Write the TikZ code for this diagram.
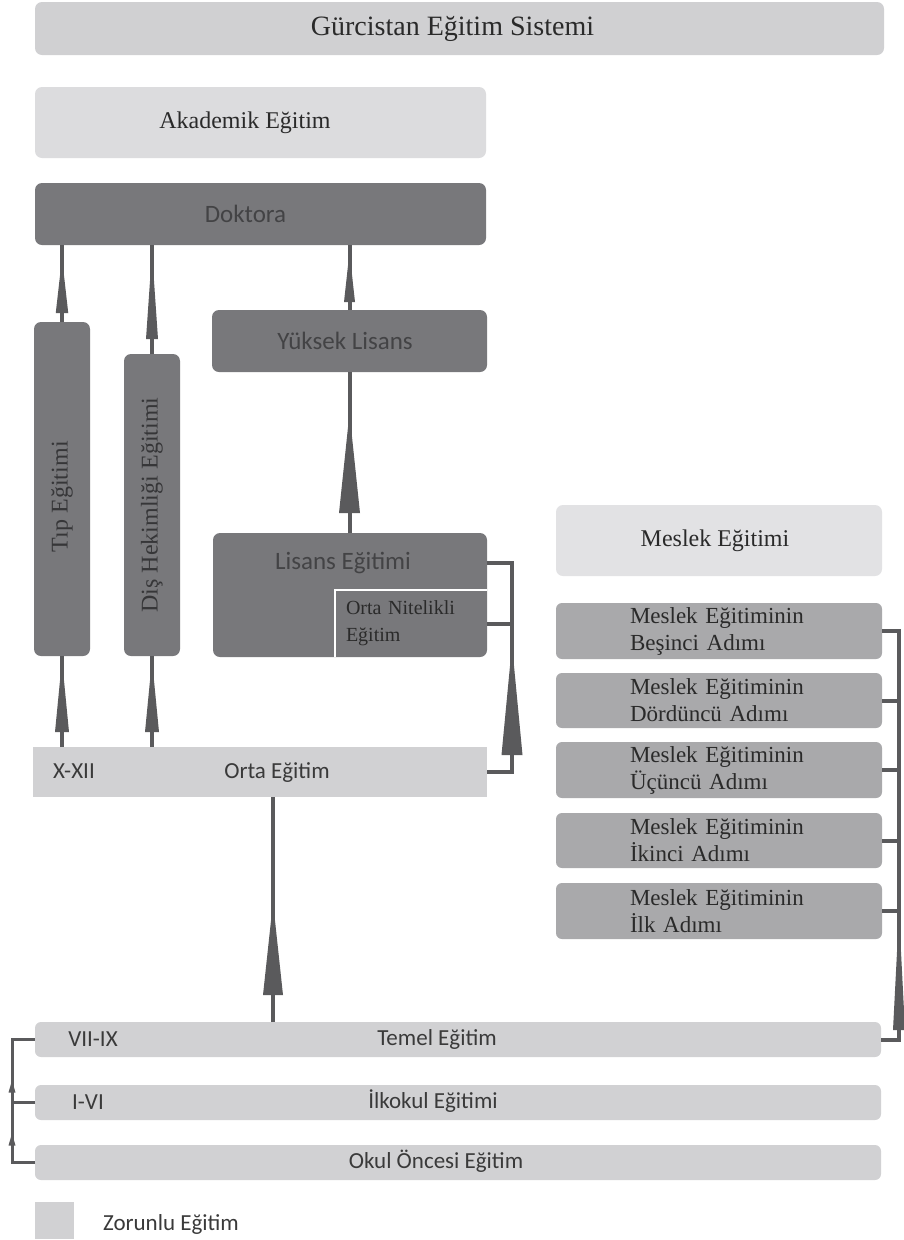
\documentclass[tikz,border=0pt]{standalone}
\usepackage{graphicx}
\usepackage{fontspec}
\setmainfont{Liberation Serif}
\newfontfamily\carl{Carlito}
\usetikzlibrary{decorations.markings}
\definecolor{lightrow}{HTML}{D1D1D3}
\definecolor{titlec}{HTML}{D0D0D2}
\definecolor{akad}{HTML}{DCDCDE}
\definecolor{darkbox}{HTML}{78787B}
\definecolor{mesh}{HTML}{E2E2E4}
\definecolor{mess}{HTML}{A9A9AB}
\definecolor{conncol}{HTML}{5A5A5C}
\definecolor{dtext}{HTML}{434345}
\definecolor{dstext}{HTML}{363638}
\definecolor{stext}{HTML}{2A2A2A}
\definecolor{rowtext}{HTML}{3A3A3A}
\begin{document}
\begin{tikzpicture}[x=1pt,y=-1pt,
  box/.style={inner sep=0pt, outer sep=0pt, rounded corners=7pt},
  lrow/.style={box, fill=lightrow},
  dbox/.style={box, fill=darkbox},
  mstep/.style={box, fill=mess, rounded corners=6pt, minimum width=326pt, text width=178pt, align=left, text=stext, font=\fontsize{23}{27}\selectfont},
  conn/.style={draw=conncol, line width=4pt},
  thin conn/.style={draw=conncol, line width=3pt},
  tri/.style n args={3}{postaction={decorate, decoration={markings, mark=at position #1 with {\fill[conncol, draw=none] (0,0) -- (-#2,0.5*#3) -- (-#2,-0.5*#3) -- cycle;}}}},
  ctext/.style={font=\carl\fontsize{23}{27}\selectfont, text=rowtext, inner sep=0pt, text height=16pt, text depth=5pt},
  dctext/.style={font=\carl\fontsize{25}{30}\selectfont, text=dtext},
]
\useasboundingbox[fill=white] (0,0) rectangle (903,1240);

% header boxes
\node[box, fill=titlec, minimum width=849pt, minimum height=53pt, text=stext, font=\fontsize{28}{32}\selectfont] (title) at (459.5,28.5) {\hspace*{-14pt}Gürcistan Eğitim Sistemi};
\node[box, fill=akad, minimum width=451pt, minimum height=71pt, text=stext, font=\fontsize{24}{28}\selectfont] (akad) at (260.5,122.5) {\hspace*{-31pt}Akademik Eğitim};

% academic boxes
\node[dbox, dctext, minimum width=451pt, minimum height=62pt] (dok) at (260.5,214) {\hspace*{-30pt}Doktora};
\node[dbox, minimum width=56pt, minimum height=334pt, text=dstext, font=\fontsize{24}{28}\selectfont] (tip) at (62,489) {\rotatebox{90}{\hspace*{-16pt}Tıp Eğitimi}};
\node[dbox, minimum width=56pt, minimum height=302pt, text=dstext, font=\fontsize{24}{28}\selectfont] (dis) at (152,505) {\rotatebox{90}{Diş Hekimliği Eğitimi}};
\node[dbox, dctext, minimum width=275pt, minimum height=62pt] (yl) at (349.5,341) {\hspace*{-9pt}Yüksek Lisans};
\node[dbox, minimum width=274pt, minimum height=124pt] (lis) at (350,595) {};
\node[dctext, inner sep=0pt] (listxt) at (343,563) {Lisans Eğitimi};
\node[inner sep=0pt, inner xsep=11pt, minimum width=152pt, minimum height=67pt, text width=130pt, align=left, text=stext, font=\fontsize{20}{27}\selectfont] (onit) at (411,623.5) {Orta Nitelikli\\Eğitim};
\draw[white, line width=2.5pt] (onit.south west) -- (onit.north west) -- (onit.north east);

% rows
\node[lrow, rounded corners=0pt, minimum width=454pt, minimum height=50pt] (orta) at (260,772) {};
\node[ctext] (oxt) at (74,773) {X-XII};
\node[ctext] (ortat) at (277,773) {Orta Eğitim};
\node[lrow, rounded corners=6pt, minimum width=846pt, minimum height=35pt] (temel) at (458,1039.5) {};
\node[ctext] (vii) at (93,1041) {VII-IX};
\node[ctext] (temelt) at (437,1040) {Temel Eğitim};
\node[lrow, rounded corners=6pt, minimum width=846pt, minimum height=35pt] (ilk) at (458,1102.5) {};
\node[ctext] (ivi) at (88,1104) {I-VI};
\node[ctext] (ilkt) at (433,1103) {İlkokul Eğitimi};
\node[lrow, rounded corners=6pt, minimum width=846pt, minimum height=35pt] (okul) at (458,1162.5) {};
\node[ctext] (okult) at (436,1163) {Okul Öncesi Eğitim};

% vocational
\node[box, fill=mesh, minimum width=326pt, minimum height=71pt, text=stext, font=\fontsize{24}{28}\selectfont] (mes) at (719,540.5) {\hspace*{-8pt}Meslek Eğitimi};
\node[mstep, minimum height=56pt] (m1) at (719,631) {\mbox{Meslek Eğitiminin}\\\mbox{Beşinci Adımı}};
\node[mstep, minimum height=55pt] (m2) at (719,700.5) {\mbox{Meslek Eğitiminin}\\\mbox{Dördüncü Adımı}};
\node[mstep, minimum height=56pt] (m3) at (719,770) {\mbox{Meslek Eğitiminin}\\\mbox{Üçüncü Adımı}};
\node[mstep, minimum height=55pt] (m4) at (719,840.5) {\mbox{Meslek Eğitiminin}\\\mbox{İkinci Adımı}};
\node[mstep, minimum height=56pt] (m5) at (719,911) {\mbox{Meslek Eğitiminin}\\\mbox{İlk Adımı}};

% legend
\node[fill=lightrow, inner sep=0pt, minimum width=39pt, minimum height=37pt] (leg) at (54.5,1220.5) {};
\node[ctext] (legt) at (171,1225) {Zorunlu Eğitim};

% connectors
\coordinate (r1) at (512,0);
\coordinate (tc) at (273,0);
\coordinate (lb) at (12,0);
\coordinate (rb) at (899,0);

\draw[conn, tri={64pt}{55}{12.5}] (tip.north) -- (tip.north |- dok.south);
\draw[conn, tri={102pt}{87}{12}] (dis.north) -- (dis.north |- dok.south);
\draw[conn, tri={58pt}{50}{11}] (yl.north) -- (yl.north |- dok.south);
\draw[conn, tri={120pt}{100}{21}] (lis.north -| yl.north) -- (yl.south);
\draw[conn, tri={87pt}{72}{14}] (tip.south |- orta.north) -- (tip.south);
\draw[conn, tri={87pt}{72}{14}] (dis.south |- orta.north) -- (dis.south);
\draw[conn, tri={152pt}{110}{21}] (orta.east) -- (r1 |- orta.east) -- (r1 |- listxt) -- (lis.east |- listxt);
\draw[conn] (onit.east) -- (r1 |- onit.east);
\draw[conn, tri={120pt}{93}{20}] (tc |- temel.north) -- (tc |- orta.south);

\draw[conn, tri={144.5pt}{117}{12}] (temel.east) -- (rb |- temel.east) -- (rb |- m1.east) -- (m1.east);
\foreach \m in {m2,m3,m4,m5} \draw[conn] (\m.east) -- (rb |- \m.east);

\draw[thin conn, tri={52pt}{12}{7}, tri={105pt}{12}{7}] (okul.west) -- (lb |- okul.west) -- (lb |- temel.west) -- (temel.west);
\draw[thin conn] (ilk.west) -- (lb |- ilk.west);
\end{tikzpicture}
\end{document}
